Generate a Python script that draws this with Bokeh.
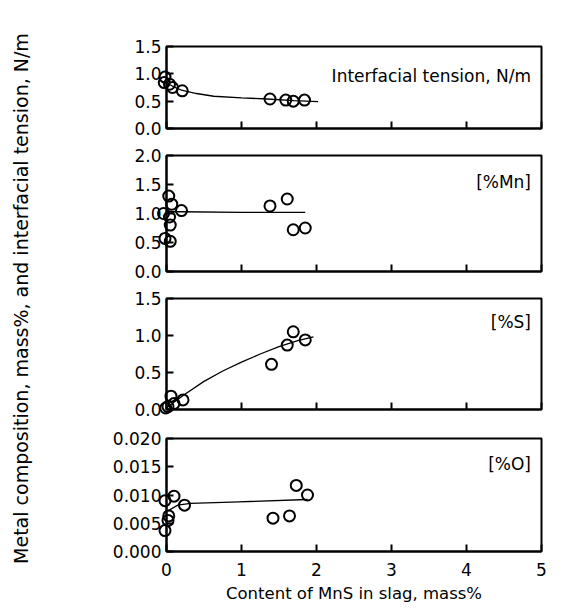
import math
from bokeh.plotting import figure
from bokeh.layouts import column, row
from bokeh.models import FixedTicker, PrintfTickFormatter, Label
from bokeh.core.properties import value
from bokeh.embed import file_html
from bokeh.resources import INLINE

# ---- data ----
x_ticks = [0, 1, 2, 3, 4, 5]

# Interfacial tension, N/m
tension_x = [-0.02, -0.03, 0.04, 0.08, 0.21, 1.38, 1.59, 1.69, 1.84]
tension_y = [0.94, 0.84, 0.81, 0.75, 0.69, 0.54, 0.52, 0.50, 0.52]
tension_fit_x = [0.05, 0.10, 0.20, 0.40, 0.63, 1.00, 1.34, 1.70, 2.02]
tension_fit_y = [0.80, 0.76, 0.70, 0.64, 0.59, 0.56, 0.54, 0.51, 0.49]

# [%Mn]
mn_x = [0.03, 0.07, -0.04, 0.04, 0.05, -0.02, 0.05, 0.20, 1.38, 1.61, 1.69, 1.85]
mn_y = [1.30, 1.16, 1.00, 0.94, 0.80, 0.57, 0.52, 1.05, 1.13, 1.25, 0.72, 0.75]
mn_fit_x = [0.05, 0.20, 1.00, 1.85]
mn_fit_y = [1.03, 1.03, 1.02, 1.02]

# [%S]
s_x = [-0.01, 0.02, 0.06, 0.10, 0.22, 1.40, 1.61, 1.69, 1.85]
s_y = [0.02, 0.04, 0.18, 0.08, 0.13, 0.61, 0.87, 1.05, 0.94]
s_fit_x = [0.00, 0.10, 0.25, 0.50, 0.75, 1.00, 1.25, 1.50, 1.75, 1.96]
s_fit_y = [0.02, 0.10, 0.21, 0.38, 0.52, 0.64, 0.75, 0.85, 0.93, 0.98]

# [%O]
o_x = [-0.02, 0.10, 0.03, 0.02, -0.02, 0.24, 1.42, 1.64, 1.73, 1.88]
o_y = [0.0090, 0.0098, 0.0063, 0.0055, 0.0037, 0.0082, 0.0059, 0.0063, 0.0117, 0.0100]
o_fit_x = [0.02, 0.15, 0.32, 0.97, 1.88]
o_fit_y = [0.0072, 0.0082, 0.0085, 0.0088, 0.0092]

panel_titles = ["Interfacial tension, N/m", "[%Mn]", "[%S]", "[%O]"]
y_ranges = [(0, 1.5), (0, 2.0), (0, 1.5), (0, 0.020)]
y_ticks = [[0, 0.5, 1.0, 1.5], [0, 0.5, 1.0, 1.5, 2.0], [0, 0.5, 1.0, 1.5],
           [0, 0.005, 0.010, 0.015, 0.020]]
y_formats = ["%.1f", "%.1f", "%.1f", "%.3f"]
title_y = [0.96, 1.55, 1.18, 0.0155]
x_label = "Content of MnS in slag, mass%"
y_label = "Metal composition,  mass%, and interfacial tension, N/m"

FONT = "DejaVu Sans"
LABEL_W = 40

# layout: (height, border_top, border_bottom)
layout = [(141, 46, 13), (143, 14, 13), (140, 14, 15), (184, 14, 57)]

series = [
    (tension_x, tension_y, tension_fit_x, tension_fit_y),
    (mn_x, mn_y, mn_fit_x, mn_fit_y),
    (s_x, s_y, s_fit_x, s_fit_y),
    (o_x, o_y, o_fit_x, o_fit_y),
]

figs = []
for i in range(4):
    h, bt, bb = layout[i]
    p = figure(width=562 - LABEL_W, height=h, x_range=(0, 5), y_range=y_ranges[i],
               output_backend="svg", toolbar_location=None,
               min_border_left=166 - LABEL_W, min_border_right=21,
               min_border_top=bt, min_border_bottom=bb)
    p.grid.visible = False
    p.outline_line_color = "black"
    p.outline_line_width = 2
    p.background_fill_color = "white"
    p.border_fill_color = "white"

    for ax in (p.xaxis[0], p.yaxis[0]):
        ax.axis_line_width = 2
        ax.axis_line_color = "black"
        ax.major_tick_in = 7
        ax.major_tick_out = 0
        ax.major_tick_line_width = 2
        ax.minor_tick_line_color = None
        ax.major_label_text_font = FONT
        ax.major_label_text_font_size = "17px"
        ax.major_label_text_color = "black"

    p.xaxis.ticker = FixedTicker(ticks=x_ticks)
    p.yaxis.ticker = FixedTicker(ticks=y_ticks[i])
    p.yaxis.formatter = PrintfTickFormatter(format=y_formats[i])
    p.yaxis.major_label_standoff = 5

    if i < 3:
        p.xaxis.major_label_text_font_size = "0px"
        p.xaxis.major_label_standoff = 0
    else:
        p.xaxis.major_label_standoff = 11
        p.xaxis.axis_label = x_label
        p.xaxis.axis_label_text_font = FONT
        p.xaxis.axis_label_text_font_size = "16.5px"
        p.xaxis.axis_label_text_font_style = "normal"
        p.xaxis.axis_label_text_color = "black"
        p.xaxis.axis_label_standoff = 5

    sx, sy, fx, fy = series[i]
    p.line(fx, fy, line_color="black", line_width=1.3)
    r = p.scatter(sx, sy, marker="circle", size=11, fill_color=None,
                  line_color="black", line_width=2)
    r.level = "overlay"

    p.add_layout(Label(x=4.86, y=title_y[i], text=panel_titles[i],
                       text_align="right", text_baseline="middle",
                       text_font=FONT, text_font_size="17px", text_color="black"))
    figs.append(p)

lab = figure(width=LABEL_W, height=608, x_range=(0, LABEL_W), y_range=(0, 608),
             output_backend="svg", toolbar_location=None, min_border=0)
lab.axis.visible = False
lab.grid.visible = False
lab.outline_line_color = None
lab.text(x=[20], y=[313], text=[y_label], angle=math.pi / 2,
         text_align="center", text_baseline="middle",
         text_font=value(FONT), text_font_size="19px", text_color="black")

layout_all = row(lab, column(*figs, spacing=0), spacing=0)
open("out.html", "w").write(file_html(layout_all, INLINE))
